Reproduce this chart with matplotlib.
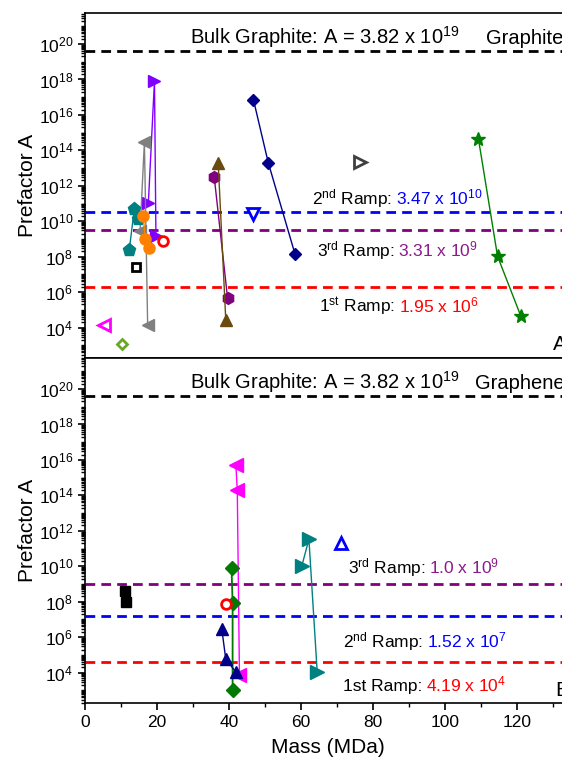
import numpy as np
import matplotlib
matplotlib.use("Agg")
import matplotlib.pyplot as plt
from matplotlib.ticker import FixedLocator, FuncFormatter, MultipleLocator, LogLocator, NullFormatter
from matplotlib.transforms import offset_copy

plt.rcParams['font.family'] = ['Liberation Sans', 'DejaVu Sans']
plt.rcParams['mathtext.fontset'] = 'custom'
plt.rcParams['mathtext.rm'] = 'Liberation Sans'
plt.rcParams['mathtext.it'] = 'Liberation Sans:italic'
plt.rcParams['mathtext.bf'] = 'Liberation Sans:bold'

# ---------------- Graphite (panel A) ----------------
# mass in MDa, prefactor as log10(A)
gt_violet_x = [17.6, 19.3, 19.7]
gt_violet_logA = [11.03, 17.93, 9.18]
gt_gray_x = [15.3, 16.5, 17.4]
gt_gray_logA = [9.46, 14.46, 4.17]
gt_teal_x = [12.3, 13.7, 14.6]
gt_teal_logA = [8.39, 10.69, 10.12]
gt_orange_x = [16.2, 16.7, 17.9]
gt_orange_logA = [10.31, 9.00, 8.49]
gt_hex_x = [35.9, 39.6]
gt_hex_logA = [12.49, 5.67]
gt_brown_x = [37.0, 39.1]
gt_brown_logA = [13.28, 4.45]
gt_navy_x = [46.8, 50.9, 58.3]
gt_navy_logA = [16.85, 13.31, 8.17]
gt_star_x = [109.3, 114.6, 121.0]
gt_star_logA = [14.63, 8.02, 4.68]
gt_single_x = [21.8, 14.2, 5.4, 10.2, 46.8, 76.4]
gt_single_logA = [8.90, 7.40, 4.13, 3.08, 10.40, 13.33]

gt_ramps = [3.82e19, 3.47e10, 3.31e9, 1.95e6]

# ---------------- Graphene (panel B) ----------------
gn_magenta_x = [41.9, 42.3, 42.9]
gn_magenta_logA = [15.74, 14.30, 3.88]
gn_green_x = [40.7, 41.0, 41.0]
gn_green_logA = [9.90, 7.92, 3.03]
gn_navy_x = [38.0, 39.1, 41.9]
gn_navy_logA = [6.46, 4.76, 4.03]
gn_teal_x = [60.2, 62.2, 64.5]
gn_teal_logA = [10.00, 11.52, 4.03]
gn_square_x = [11.1, 11.3]
gn_square_logA = [8.58, 7.97]
gn_single_x = [39.3, 71.1]
gn_single_logA = [7.88, 11.29]

gn_ramps = [3.82e19, 1.0e9, 1.52e7, 4.19e4]

RED = '#FF0000'
BLUE = '#0000FF'
PURPLE = '#8B1A8B'
XMAX = 135


def p(v):
    return 10.0 ** np.asarray(v)


fig = plt.figure(figsize=(5.62, 7.66), dpi=100)
left = 85 / 562
width = XMAX * 3.6 / 562
axA = fig.add_axes([left, 0.5326, width, 0.4504])
axB = fig.add_axes([left, 0.0822, width, 0.4504])

for ax in (axA, axB):
    ax.set_yscale('log')
    ax.set_xlim(0, XMAX)
    ax.set_ylim(10 ** 2.28, 10 ** 21.75)
    ax.yaxis.set_major_locator(FixedLocator([10.0 ** k for k in range(2, 22, 2)]))
    ax.yaxis.set_major_formatter(FuncFormatter(lambda v, pos: r'$\mathregular{10^{%d}}$' % round(np.log10(v))))
    ax.yaxis.set_minor_locator(LogLocator(base=10, subs=np.arange(1, 10), numticks=100))
    ax.yaxis.set_minor_formatter(NullFormatter())
    ax.tick_params(axis='y', which='major', direction='out', length=5, width=1.2, labelsize=12.5, right=False)
    ax.tick_params(axis='y', which='minor', direction='out', length=3, width=1.0, right=False)
    ax.set_ylabel('Prefactor A', fontsize=15, labelpad=1)
    for s in ax.spines.values():
        s.set_linewidth(1.2)

axA.tick_params(axis='x', which='both', bottom=False, top=False, labelbottom=False)
axB.xaxis.set_major_locator(MultipleLocator(20))
axB.xaxis.set_minor_locator(MultipleLocator(10))
axB.tick_params(axis='x', which='major', direction='out', length=5, width=1.2, labelsize=12.5, top=False)
axB.tick_params(axis='x', which='minor', direction='out', length=3, width=1.0, top=False)
axB.set_xlabel('Mass (MDa)', fontsize=15, labelpad=6)

dash = dict(lw=2.0, dashes=(3.5, 2.2))

renderer = fig.canvas.get_renderer()


def ramp_label(ax, x, logA, head, value, color, size=12.5):
    """Black ramp name followed by its coloured value."""
    t = ax.text(x, 10 ** logA, head, fontsize=size, va='baseline', ha='left')
    w = t.get_window_extent(renderer=renderer).width + 4
    trans = offset_copy(ax.transData, fig=fig, x=w, y=0, units='dots')
    ax.text(x, 10 ** logA, value, fontsize=size, va='baseline', ha='left', color=color, transform=trans)


# ---- panel A ----
axA.axhline(gt_ramps[0], color='black', **dash)
axA.axhline(gt_ramps[1], color=BLUE, **dash)
axA.axhline(gt_ramps[2], color='#800080', **dash)
axA.axhline(gt_ramps[3], color=RED, **dash)

axA.plot(gt_violet_x, p(gt_violet_logA), '-', color='#8000FF', lw=1, marker='>', ms=9, mec='#8000FF', mfc='#8000FF')
axA.plot(gt_gray_x, p(gt_gray_logA), '-', color='#808080', lw=1, marker='<', ms=9, mec='#808080', mfc='#808080')
axA.plot(gt_teal_x, p(gt_teal_logA), '-', color='#008080', lw=1, marker='p', ms=9.5, mec='#008080', mfc='#008080')
axA.plot(gt_orange_x, p(gt_orange_logA), '-', color='#FF8000', lw=1, marker='o', ms=8, mec='#FF8000', mfc='#FF8000')
axA.plot(gt_hex_x, p(gt_hex_logA), '-', color='#800080', lw=1, marker='h', ms=8.5, mec='#800080', mfc='#800080')
axA.plot(gt_brown_x, p(gt_brown_logA), '-', color='#6B4A0E', lw=1, marker='^', ms=9, mec='#6B4A0E', mfc='#6B4A0E')
axA.plot(gt_navy_x, p(gt_navy_logA), '-', color='#00008B', lw=1, marker='D', ms=6.5, mec='#00008B', mfc='#00008B')
axA.plot(gt_star_x, p(gt_star_logA), '-', color='#008000', lw=1, marker='*', ms=10, mec='#008000', mfc='#008000')

single_styles = [
    dict(marker='o', ms=7, color=RED),
    dict(marker='s', ms=6, color='black'),
    dict(marker='<', ms=8, color='#FF00FF'),
    dict(marker='D', ms=5.5, color='#6AA628'),
    dict(marker='v', ms=8.5, color=BLUE),
    dict(marker='>', ms=8, color='#404040'),
]
for x, la, st in zip(gt_single_x, gt_single_logA, single_styles):
    axA.plot([x], [p(la)], linestyle='none', marker=st['marker'], ms=st['ms'],
             mfc='white', mec=st['color'], mew=2)

axA.text(29.2, 10 ** 20.0, r'Bulk Graphite: A = 3.82 x 10$^{\mathregular{19}}$', fontsize=14.5, va='baseline')
axA.text(111.5, 10 ** 20.0, 'Graphite', fontsize=14.5, va='baseline')
ramp_label(axA, 63.0, 10.95, r'2$^{\mathregular{nd}}$ Ramp:', r'3.47 x 10$^{\mathregular{10}}$', BLUE)
ramp_label(axA, 64.4, 8.0, r'3$^{\mathregular{rd}}$ Ramp:', r'3.31 x 10$^{\mathregular{9}}$', PURPLE)
ramp_label(axA, 65.0, 4.85, r'1$^{\mathregular{st}}$ Ramp:', r'1.95 x 10$^{\mathregular{6}}$', RED)
axA.text(130.0, 10 ** 2.75, 'A', fontsize=15, va='baseline', ha='left')

# ---- panel B ----
axB.axhline(gn_ramps[0], color='black', **dash)
axB.axhline(gn_ramps[1], color='#800080', **dash)
axB.axhline(gn_ramps[2], color=BLUE, **dash)
axB.axhline(gn_ramps[3], color=RED, **dash)

axB.plot(gn_magenta_x, p(gn_magenta_logA), '-', color='#FF00FF', lw=1, marker='<', ms=9.5, mec='#FF00FF', mfc='#FF00FF')
axB.plot(gn_green_x, p(gn_green_logA), '-', color='#007A00', lw=1.3, marker='D', ms=6.8, mec='#007A00', mfc='#007A00')
axB.plot(gn_navy_x, p(gn_navy_logA), '-', color='#00008B', lw=1, marker='^', ms=9, mec='#00008B', mfc='#00008B')
axB.plot(gn_teal_x, p(gn_teal_logA), '-', color='#008080', lw=1, marker='>', ms=9.5, mec='#008080', mfc='#008080')
axB.plot(gn_square_x, p(gn_square_logA), linestyle='none', marker='s', ms=6.5, mec='black', mfc='black')
axB.plot([gn_single_x[0]], [p(gn_single_logA[0])], linestyle='none', marker='o', ms=7, mfc='white', mec=RED, mew=2)
axB.plot([gn_single_x[1]], [p(gn_single_logA[1])], linestyle='none', marker='^', ms=8, mfc='white', mec=BLUE, mew=2)

axB.text(29.2, 10 ** 20.0, r'Bulk Graphite: A = 3.82 x 10$^{\mathregular{19}}$', fontsize=14.5, va='baseline')
axB.text(108.3, 10 ** 20.0, 'Graphene', fontsize=14.5, va='baseline')
ramp_label(axB, 73.0, 9.6, r'3$^{\mathregular{rd}}$ Ramp:', r'1.0 x 10$^{\mathregular{9}}$', PURPLE)
ramp_label(axB, 71.6, 5.4, r'2$^{\mathregular{nd}}$ Ramp:', r'1.52 x 10$^{\mathregular{7}}$', BLUE)
ramp_label(axB, 71.7, 2.95, '1st Ramp:', r'4.19 x 10$^{\mathregular{4}}$', RED)
axB.text(130.5, 10 ** 2.7, 'B', fontsize=15, va='baseline', ha='left')

fig.savefig('out.png', dpi=100)
